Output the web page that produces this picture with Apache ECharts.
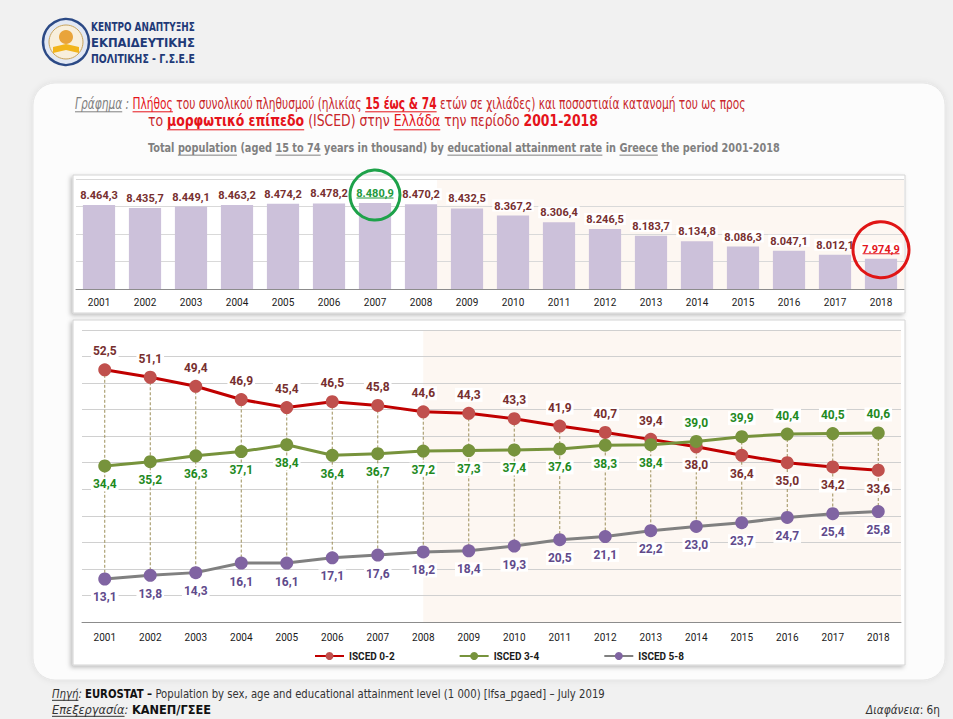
<!DOCTYPE html>
<html>
<head>
<meta charset="utf-8" />
<script src="https://cdn.jsdelivr.net/npm/echarts@6/dist/echarts.min.js"></script>
</head>
<body style="margin: 0; background: #f1f1f1;">
<div id="main" style="width: 953px; height: 719px;"></div>
<script type="text/javascript">
var years = ['2001', '2002', '2003', '2004', '2005', '2006', '2007', '2008', '2009',
  '2010', '2011', '2012', '2013', '2014', '2015', '2016', '2017', '2018'];
// population 15-74, thousands
var population = [8464.3, 8435.7, 8449.1, 8463.2, 8474.2, 8478.2, 8480.9, 8470.2, 8432.5,
  8367.2, 8306.4, 8246.5, 8183.7, 8134.8, 8086.3, 8047.1, 8012.1, 7974.9];
// share by ISCED level, %
var isced02 = [52.5, 51.1, 49.4, 46.9, 45.4, 46.5, 45.8, 44.6, 44.3, 43.3, 41.9, 40.7, 39.4, 38.0, 36.4, 35.0, 34.2, 33.6];
var isced34 = [34.4, 35.2, 36.3, 37.1, 38.4, 36.4, 36.7, 37.2, 37.3, 37.4, 37.6, 38.3, 38.4, 39.0, 39.9, 40.4, 40.5, 40.6];
var isced58 = [13.1, 13.8, 14.3, 16.1, 16.1, 17.1, 17.6, 18.2, 18.4, 19.3, 20.5, 21.1, 22.2, 23.0, 23.7, 24.7, 25.4, 25.8];
var seriesNames = ['ISCED 0-2', 'ISCED 3-4', 'ISCED 5-8'];

function grNum(v) {
  var p = v.toFixed(1).split('.');
  return p[0].replace(/\B(?=(\d{3})+(?!\d))/g, '.') + ',' + p[1];
}

var maxIdx = population.indexOf(Math.max.apply(null, population));
var lastIdx = population.length - 1;

// text lines laid out by measuring, squeezed to the width seen in the slide
var ctx = document.createElement('canvas').getContext('2d');
function hasFont(name) {
  var probe = 'ΑΒΓ abc 0123 mmmWW';
  ctx.font = '20px monospace';
  var a = ctx.measureText(probe).width;
  ctx.font = "20px '" + name + "', monospace";
  return ctx.measureText(probe).width !== a;
}
var FAM = "Roboto, sans-serif";
['Liberation Sans Narrow', 'DejaVu Sans Condensed'].some(function (f) {
  if (hasFont(f)) { FAM = "'" + f + "', Roboto, sans-serif"; return true; }
  return false;
});

function textLine(parts, x, y, size, width) {
  var ws = [], total = 0, els = [];
  parts.forEach(function (p) {
    ctx.font = (p.i ? 'italic ' : '') + (p.b ? 'bold ' : '') + size + 'px ' + FAM;
    var w = ctx.measureText(p.t).width;
    ws.push(w);
    total += w;
  });
  var sx = width / total;
  var cx = x;
  parts.forEach(function (p, k) {
    els.push({
      type: 'text', x: cx, y: y, scaleX: sx, z: 20,
      style: {
        text: p.t, fill: p.c, fontSize: size, fontFamily: FAM,
        fontWeight: p.b ? 'bold' : 'normal', fontStyle: p.i ? 'italic' : 'normal',
        align: 'left', verticalAlign: 'middle'
      }
    });
    if (p.u) {
      els.push({
        type: 'line', z: 20,
        shape: { x1: cx, y1: y + size * 0.55, x2: cx + ws[k] * sx, y2: y + size * 0.55 },
        style: { stroke: p.c, lineWidth: 1 }
      });
    }
    cx += ws[k] * sx;
  });
  return els;
}

var RED = '#c8262a', RED2 = '#e5131a', GRAY = '#808080', NAVY = '#1f3a78', DARK = '#333333';

var staticGraphics = [
  // slide panel and chart boxes
  { type: 'rect', z: -20, shape: { x: 33, y: 83, width: 912, height: 597, r: 22 },
    style: { fill: '#fcfcfc', stroke: '#e6e6e6', lineWidth: 1, shadowBlur: 6, shadowColor: 'rgba(0,0,0,0.08)' } },
  { type: 'rect', z: -15, shape: { x: 73, y: 175, width: 832, height: 138 },
    style: { fill: '#ffffff', stroke: '#d4d4d4', lineWidth: 1, shadowBlur: 4, shadowOffsetX: -2, shadowOffsetY: 2, shadowColor: 'rgba(0,0,0,0.25)' } },
  { type: 'rect', z: -15, shape: { x: 73, y: 320, width: 832, height: 345 },
    style: { fill: '#ffffff', stroke: '#d4d4d4', lineWidth: 1, shadowBlur: 4, shadowOffsetX: -2, shadowOffsetY: 2, shadowColor: 'rgba(0,0,0,0.25)' } },
  // logo emblem
  { type: 'circle', z: 5, shape: { cx: 66, cy: 42, r: 23 }, style: { fill: '#e3e9f4', stroke: '#2c4a86', lineWidth: 2.5 } },
  { type: 'circle', z: 5, shape: { cx: 66, cy: 42, r: 17 }, style: { fill: '#f8efdc', stroke: '#c9a45c', lineWidth: 1 } },
  { type: 'circle', z: 5, shape: { cx: 66, cy: 37, r: 7 }, style: { fill: '#e9a43a' } },
  { type: 'polygon', z: 5, shape: { points: [[53, 47], [66, 44], [79, 47], [79, 53], [66, 50], [53, 53]] }, style: { fill: '#f2b51c' } }
];

var texts = [].concat(
  textLine([{ t: 'ΚΕΝΤΡΟ ΑΝΑΠΤΥΞΗΣ', c: NAVY, b: 1 }], 91, 27, 12, 104),
  textLine([{ t: 'ΕΚΠΑΙΔΕΥΤΙΚΗΣ', c: NAVY, b: 1 }], 91, 43, 12, 104),
  textLine([{ t: 'ΠΟΛΙΤΙΚΗΣ - Γ.Σ.Ε.Ε', c: NAVY, b: 1 }], 91, 59, 12, 104),
  textLine([
    { t: 'Γράφημα', c: GRAY, i: 1, u: 1 },
    { t: ' : ', c: GRAY, i: 1 },
    { t: 'Πλήθος', c: RED2, u: 1 },
    { t: ' του συνολικού πληθυσμού (ηλικίας ', c: RED },
    { t: '15 έως & 74', c: RED2, b: 1, u: 1 },
    { t: ' ετών σε χιλιάδες) και ποσοστιαία κατανομή του ως προς', c: RED }
  ], 75, 103, 16, 671),
  textLine([
    { t: 'το ', c: RED },
    { t: 'μορφωτικό επίπεδο', c: RED2, b: 1, u: 1 },
    { t: ' (ISCED) στην ', c: RED },
    { t: 'Ελλάδα', c: RED2, u: 1 },
    { t: ' την περίοδο ', c: RED },
    { t: '2001-2018', c: RED2, b: 1 }
  ], 148, 121, 16, 450),
  textLine([
    { t: 'Total ', c: GRAY, b: 1 },
    { t: 'population', c: GRAY, b: 1, u: 1 },
    { t: ' (aged ', c: GRAY, b: 1 },
    { t: '15 to 74', c: GRAY, b: 1, u: 1 },
    { t: ' years in thousand) by ', c: GRAY, b: 1 },
    { t: 'educational attainment rate', c: GRAY, b: 1, u: 1 },
    { t: ' in ', c: GRAY, b: 1 },
    { t: 'Greece', c: GRAY, b: 1, u: 1 },
    { t: ' the period 2001-2018', c: GRAY, b: 1 }
  ], 148, 148, 13, 632),
  textLine([
    { t: 'Πηγή', c: DARK, i: 1, u: 1 },
    { t: ': ', c: DARK, i: 1 },
    { t: 'EUROSTAT –', c: '#111', b: 1 },
    { t: ' Population by sex, age and educational attainment level (1 000) [lfsa_pgaed] – July 2019', c: DARK }
  ], 52, 694, 11.5, 553),
  textLine([
    { t: 'Επεξεργασία', c: DARK, i: 1, u: 1 },
    { t: ': ', c: DARK, i: 1 },
    { t: 'ΚΑΝΕΠ/ΓΣΕΕ', c: '#111', b: 1 }
  ], 52, 710, 11.5, 159),
  textLine([
    { t: 'Διαφάνεια', c: DARK, i: 1 },
    { t: ': 6η', c: DARK }
  ], 866, 710, 11.5, 74)
);

function lineLabelPos(own, other) {
  return own.map(function (v, i) {
    return { value: v, label: { position: v > other[i] ? 'top' : 'bottom' } };
  });
}

var labelBase = { show: true, fontWeight: 'bold', fontSize: 12, backgroundColor: '#ffffff', padding: [1, 2], distance: 5,
  formatter: function (p) { return grNum(p.value); } };

var chart = echarts.init(document.getElementById('main'), null, { renderer: 'svg' });
var option = {
  animation: false,
  backgroundColor: '#f1f1f1',
  textStyle: { fontFamily: 'Roboto, sans-serif' },
  grid: [
    { left: 76, top: 179, width: 828, height: 110 },
    { left: 82, top: 330, width: 819, height: 292 }
  ],
  xAxis: [
    { gridIndex: 0, type: 'category', data: years,
      axisLine: { lineStyle: { color: '#8c8c8c' } },
      axisTick: { length: 4, lineStyle: { color: '#8c8c8c' } },
      axisLabel: { color: '#1a1a1a', fontSize: 10, margin: 8 } },
    { gridIndex: 1, type: 'category', data: years,
      axisLine: { lineStyle: { color: '#8c8c8c' } },
      axisTick: { length: 5, lineStyle: { color: '#8c8c8c' } },
      axisLabel: { color: '#1a1a1a', fontSize: 10, margin: 10 } }
  ],
  yAxis: [
    { gridIndex: 0, type: 'value', min: 7700, max: 8700, interval: 250,
      axisLabel: { show: false }, axisLine: { show: false }, axisTick: { show: false },
      splitLine: { lineStyle: { color: '#d9d9d9' } } },
    { gridIndex: 1, type: 'value', min: 5, max: 60, interval: 5,
      axisLabel: { show: false }, axisLine: { show: false }, axisTick: { show: false },
      splitLine: { lineStyle: { color: '#d0d0d0' } } }
  ],
  legend: {
    data: seriesNames, left: 309, top: 646, itemWidth: 29, itemHeight: 10, itemGap: 64,
    textStyle: { fontSize: 10, fontWeight: 'bold', color: '#1a1a1a' }
  },
  series: [
    {
      type: 'bar', xAxisIndex: 0, yAxisIndex: 0, barWidth: '70%',
      itemStyle: { color: '#ccc1da' },
      data: population.map(function (v, i) {
        var c = i === maxIdx ? '#239a3c' : (i === lastIdx ? '#e3161b' : '#772f2f');
        return { value: v, label: { color: c } };
      }),
      label: { show: true, position: 'top', distance: 4, fontSize: 11, fontWeight: 'bold',
        backgroundColor: '#ffffff', padding: [1, 2, 0, 2],
        formatter: function (p) { return grNum(p.value); } },
      markPoint: {
        silent: true, label: { show: false },
        data: [
          { coord: [years[maxIdx], population[maxIdx]], symbol: 'circle', symbolSize: 50, symbolOffset: [0, -8],
            itemStyle: { color: 'rgba(0,0,0,0)', borderColor: '#1ea24a', borderWidth: 3 } },
          { coord: [years[lastIdx], population[lastIdx]], symbol: 'circle', symbolSize: 56, symbolOffset: [0, -9],
            itemStyle: { color: 'rgba(0,0,0,0)', borderColor: '#e01515', borderWidth: 3 } },
          { coord: [years[maxIdx], population[maxIdx]], symbol: 'rect', symbolSize: [37, 1], symbolOffset: [0, -5],
            itemStyle: { color: '#239a3c' } },
          { coord: [years[lastIdx], population[lastIdx]], symbol: 'rect', symbolSize: [37, 1], symbolOffset: [0, -5],
            itemStyle: { color: '#e3161b' } }
        ]
      }
    },
    {
      // high-low lines between the highest and lowest share of each year
      type: 'custom', xAxisIndex: 1, yAxisIndex: 1, z: 1, silent: true,
      data: years.map(function (y, i) {
        var vals = [isced02[i], isced34[i], isced58[i]];
        return [i, Math.max.apply(null, vals), Math.min.apply(null, vals)];
      }),
      encode: { x: 0, y: [1, 2] },
      renderItem: function (params, api) {
        var a = api.coord([api.value(0), api.value(1)]);
        var b = api.coord([api.value(0), api.value(2)]);
        return { type: 'line', shape: { x1: a[0], y1: a[1], x2: b[0], y2: b[1] },
          style: { stroke: '#9c8f5a', lineWidth: 1, lineDash: [3, 2] } };
      }
    },
    {
      name: seriesNames[0], type: 'line', xAxisIndex: 1, yAxisIndex: 1, z: 3,
      symbol: 'circle', symbolSize: 13,
      lineStyle: { color: '#c00000', width: 3 }, itemStyle: { color: '#c0504d' },
      label: Object.assign({}, labelBase, { color: '#772f2f' }),
      data: lineLabelPos(isced02, isced34)
    },
    {
      name: seriesNames[1], type: 'line', xAxisIndex: 1, yAxisIndex: 1, z: 3,
      symbol: 'circle', symbolSize: 13,
      lineStyle: { color: '#77933c', width: 3 }, itemStyle: { color: '#77933c' },
      label: Object.assign({}, labelBase, { color: '#1f8a1f' }),
      data: lineLabelPos(isced34, isced02)
    },
    {
      name: seriesNames[2], type: 'line', xAxisIndex: 1, yAxisIndex: 1, z: 3,
      symbol: 'circle', symbolSize: 13,
      lineStyle: { color: '#808080', width: 3 }, itemStyle: { color: '#8064a2' },
      label: Object.assign({}, labelBase, { color: '#604a8b', position: 'bottom' }),
      data: isced58
    }
  ],
  graphic: staticGraphics.concat(texts)
};
chart.setOption(option);

// light shaded period from 2008 onwards, placed through the axes
var lx = chart.convertToPixel({ xAxisIndex: 1 }, years[7]);
var bx = chart.convertToPixel({ xAxisIndex: 0 }, years[7]) + 46 * 0.35;
chart.setOption({
  graphic: staticGraphics.concat([
    { type: 'rect', z: -5, shape: { x: bx, y: 179, width: 904 - bx, height: 110 }, style: { fill: '#fdf7f2' } },
    { type: 'rect', z: -5, shape: { x: lx, y: 330, width: 901 - lx, height: 292 }, style: { fill: '#fdf7f2' } }
  ]).concat(texts)
}, { replaceMerge: ['graphic'] });
</script>
</body>
</html>
